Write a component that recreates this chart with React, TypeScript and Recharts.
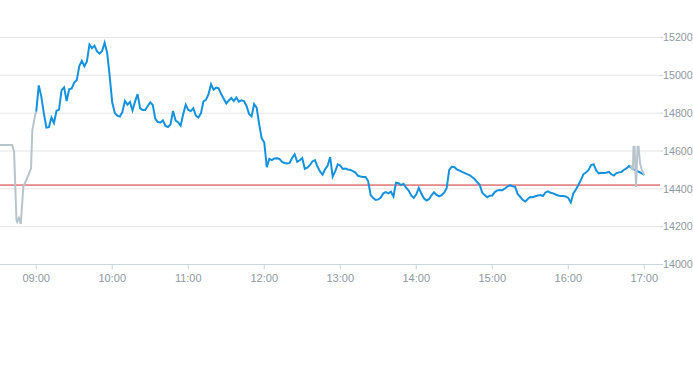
import { LineChart, Line, XAxis, YAxis, CartesianGrid, ReferenceLine } from "recharts";

// times are minutes after midnight
const sessionStart = 540; // 09:00
const sessionStep = 2;
const sessionPrices = [
  14808, 14947, 14889, 14800, 14724, 14726, 14777, 14748, 14812, 14819,
  14922, 14936, 14864, 14926, 14931, 14962, 14975, 15049, 15077, 15048,
  15074, 15163, 15144, 15157, 15126, 15115, 15129, 15172, 15119, 14994,
  14856, 14801, 14787, 14782, 14806, 14865, 14845, 14859, 14814, 14861,
  14901, 14825, 14817, 14817, 14838, 14857, 14843, 14770, 14753, 14751,
  14762, 14732, 14727, 14740, 14812, 14761, 14752, 14734, 14794, 14845,
  14817, 14811, 14826, 14787, 14777, 14799, 14862, 14870, 14901, 14953,
  14924, 14935, 14931, 14901, 14876, 14851, 14867, 14880, 14864, 14883,
  14861, 14868, 14864, 14838, 14796, 14783, 14848, 14829, 14741, 14667,
  14645, 14515, 14558, 14552, 14561, 14562, 14558, 14542, 14537, 14534,
  14537, 14563, 14583, 14543, 14551, 14563, 14506, 14512, 14525, 14545,
  14552, 14518, 14492, 14475, 14503, 14522, 14568, 14465, 14492, 14529,
  14523, 14505, 14507, 14502, 14500, 14494, 14486, 14469, 14465, 14463,
  14463, 14441, 14367, 14352, 14341, 14344, 14354, 14376, 14383, 14376,
  14385, 14360, 14433, 14430, 14420, 14427, 14406, 14391, 14365, 14352,
  14371, 14405, 14375, 14350, 14338, 14345, 14366, 14382, 14368, 14360,
  14367, 14380, 14404, 14500, 14516, 14515, 14503, 14497, 14490, 14484,
  14478, 14473, 14463, 14452, 14436, 14423, 14381, 14367, 14356, 14364,
  14365, 14383, 14392, 14394, 14393, 14402, 14412, 14420, 14413, 14411,
  14373, 14358, 14342, 14333, 14346, 14357, 14356, 14361, 14365, 14367,
  14362, 14381, 14387, 14379, 14376, 14370, 14365, 14362, 14362, 14360,
  14352, 14328, 14376, 14396, 14420, 14447, 14478, 14486, 14500, 14526,
  14530, 14497, 14482, 14485, 14484, 14485, 14490, 14477, 14470, 14483,
  14487, 14489, 14501, 14508, 14521, 14510, 14502, 14495, 14489, 14482,
  14473,
];

const preTimes = [511.4, 521, 522.5, 524.4, 525, 526.4, 527.8, 529.8, 533.8, 535.9, 536.9, 537.7, 539.1, 540];
const prePrices = [14632, 14632, 14596, 14235, 14225, 14246, 14214, 14411, 14473, 14508, 14711, 14737, 14790, 14808];

const postTimes = [1009, 1011, 1011.5, 1012.3, 1013.5, 1014.7, 1015.5, 1016.6, 1018, 1020];
const postPrices = [14526, 14500, 14623, 14623, 14410, 14623, 14623, 14537, 14500, 14473];

const refLevel = 14420;
const yTicks = [14000, 14200, 14400, 14600, 14800, 15000, 15200];
const xTicks = [540, 600, 660, 720, 780, 840, 900, 960, 1020];

const sessionData = sessionPrices.map((p, i) => ({ t: sessionStart + i * sessionStep, p }));
const preData = preTimes.map((t, i) => ({ t, p: prePrices[i] }));
const postData = postTimes.map((t, i) => ({ t, p: postPrices[i] }));

function hhmm(m: number) {
  const h = Math.floor(m / 60);
  const mm = Math.round(m % 60);
  return `${String(h).padStart(2, "0")}:${String(mm).padStart(2, "0")}`;
}

const font = "'Liberation Sans', Arial, sans-serif";
const xTickStyle = { fontSize: 11, fill: "#8e99a4", fontFamily: font };
const yTickStyle = { fontSize: 10.7, fill: "#8e99a4", fontFamily: font, textAnchor: "start" };

export default function App() {
  return (
    <div style={{ position: "absolute", left: 0, top: 0, width: 693, height: 365, background: "#fff" }}>
      <LineChart width={693} height={300} margin={{ top: 37.5, right: 0, bottom: 0, left: 0 }}>
        <CartesianGrid vertical={false} stroke="#e6e6e6" />
        <XAxis
          dataKey="t" type="number" domain={[511.4, 1032.4]} ticks={xTicks}
          tickFormatter={hhmm} allowDataOverflow height={35.5}
          stroke="#ccd6dd" tickSize={5} tickMargin={5} tick={xTickStyle}
        />
        <YAxis
          orientation="right" domain={[14000, 15200]} ticks={yTicks} width={33}
          axisLine={false} tickLine={{ stroke: "#ccd6dd" }} tickSize={3} tickMargin={0}
          tick={yTickStyle} allowDataOverflow
        />
        <ReferenceLine y={refLevel} stroke="#cc2f2a" strokeWidth={1} />
        <Line data={preData} dataKey="p" type="linear" stroke="#b8c4cc" strokeWidth={2} dot={false} isAnimationActive={false} />
        <Line data={sessionData} dataKey="p" type="linear" stroke="#1592de" strokeWidth={2} dot={false} isAnimationActive={false} />
        <Line data={postData} dataKey="p" type="linear" stroke="#b8c4cc" strokeWidth={2} dot={false} isAnimationActive={false} />
      </LineChart>
    </div>
  );
}
